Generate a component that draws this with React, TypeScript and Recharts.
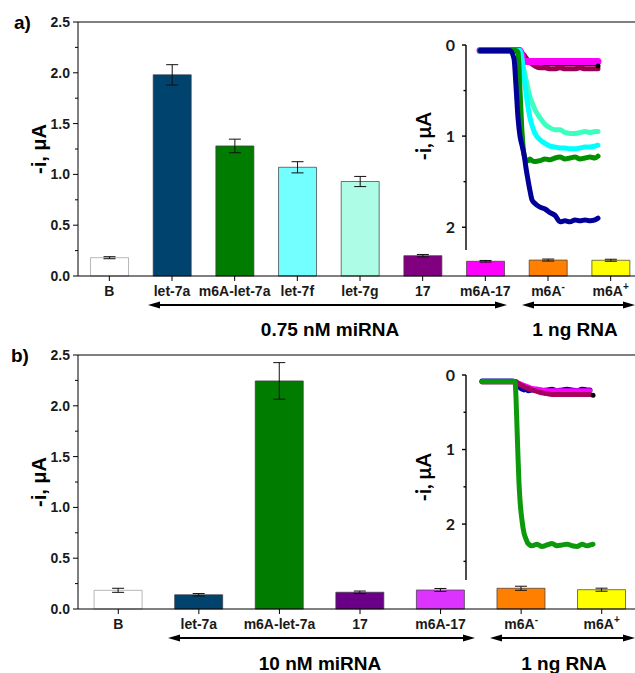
import { BarChart, Bar, Cell, ErrorBar, XAxis, YAxis, ReferenceLine, LineChart, Line } from 'recharts';

const FONT = '"Liberation Sans", Arial, sans-serif';
const INSET_FONT = 'Lato, "Open Sans", sans-serif';

// panel a: 0.75 nM miRNA
const catsA = ['B', 'let-7a', 'm6A-let-7a', 'let-7f', 'let-7g', '17', 'm6A-17', 'm6A-', 'm6A+'];
const valsA = [0.18, 1.98, 1.28, 1.07, 0.93, 0.2, 0.145, 0.157, 0.155];
const errsA = [0.01, 0.1, 0.067, 0.055, 0.05, 0.012, 0.008, 0.01, 0.01];
const colsA = ['#ffffff', '#00436e', '#007d00', '#73ffff', '#adfce5', '#800080', '#ff00ff', '#ff8000', '#ffff00'];

// panel b: 10 nM miRNA
const catsB = ['B', 'let-7a', 'm6A-let-7a', '17', 'm6A-17', 'm6A-', 'm6A+'];
const valsB = [0.184, 0.14, 2.245, 0.165, 0.187, 0.204, 0.19];
const errsB = [0.02, 0.012, 0.18, 0.012, 0.015, 0.02, 0.015];
const colsB = ['#ffffff', '#00436e', '#007d00', '#6a0088', '#dd33ff', '#ff8000', '#ffff00'];

const barTicks = [0, 0.25, 0.5, 0.75, 1, 1.25, 1.5, 1.75, 2, 2.25, 2.5];

// inset a: current traces
const tA = [0, 30, 34, 36, 38, 40, 42, 44, 46, 48, 50, 52, 55, 60, 65, 70, 75, 80, 85, 90, 95, 100, 105, 110, 115, 118];
const blueA = [0.06, 0.06, 0.15, 0.45, 0.8, 1.0, 1.1, 1.2, 1.35, 1.48, 1.6, 1.7, 1.74, 1.78, 1.8, 1.84, 1.87, 1.94, 1.93, 1.94, 1.92, 1.93, 1.92, 1.93, 1.92, 1.9];
const greenA = [0.06, 0.06, 0.06, 0.06, 0.08, 0.5, 0.95, 1.2, 1.26, 1.27, 1.25, 1.27, 1.28, 1.27, 1.25, 1.26, 1.24, 1.23, 1.25, 1.24, 1.23, 1.25, 1.24, 1.23, 1.24, 1.22];
const cyanA = [0.06, 0.06, 0.06, 0.06, 0.06, 0.06, 0.15, 0.35, 0.52, 0.68, 0.8, 0.88, 0.97, 1.04, 1.08, 1.11, 1.12, 1.13, 1.13, 1.14, 1.14, 1.13, 1.12, 1.12, 1.11, 1.1];
const aquaA = [0.06, 0.06, 0.06, 0.06, 0.06, 0.08, 0.18, 0.28, 0.38, 0.48, 0.57, 0.63, 0.71, 0.8, 0.87, 0.91, 0.93, 0.93, 0.96, 0.97, 0.97, 0.96, 0.95, 0.96, 0.95, 0.95];
const magentaA = [0.06, 0.06, 0.06, 0.06, 0.06, 0.06, 0.12, 0.18, 0.18, 0.18, 0.18, 0.18, 0.18, 0.18, 0.18, 0.18, 0.18, 0.18, 0.18, 0.18, 0.18, 0.18, 0.18, 0.18, 0.18, 0.18];
const maroonA = [0.06, 0.06, 0.06, 0.06, 0.06, 0.07, 0.09, 0.11, 0.14, 0.17, 0.19, 0.21, 0.23, 0.25, 0.25, 0.26, 0.26, 0.25, 0.26, 0.26, 0.26, 0.25, 0.26, 0.26, 0.26, 0.26];
const blackA = [0.06, 0.06, 0.06, 0.06, 0.06, 0.07, 0.09, 0.12, 0.15, 0.17, 0.19, 0.2, 0.21, 0.21, 0.22, 0.22, 0.22, 0.22, 0.22, 0.22, 0.22, 0.22, 0.22, 0.22, 0.22, 0.23];

// inset b
const tB = [0, 30, 33, 34, 35, 36, 37, 38, 40, 42, 44, 46, 50, 55, 60, 65, 70, 75, 80, 85, 90, 95, 100, 105, 108, 111];
const greenB = [0.09, 0.09, 0.09, 0.3, 0.7, 1.1, 1.45, 1.68, 1.95, 2.12, 2.2, 2.26, 2.29, 2.27, 2.3, 2.28, 2.26, 2.29, 2.28, 2.27, 2.29, 2.3, 2.27, 2.29, 2.28, 2.27];
const blueB = [0.08, 0.08, 0.09, 0.1, 0.12, 0.14, 0.16, 0.17, 0.19, 0.2, 0.19, 0.21, 0.2, 0.19, 0.21, 0.2, 0.19, 0.21, 0.2, 0.19, 0.2, 0.21, 0.19, 0.2, 0.2, null];
const magentaB = [0.09, 0.09, 0.09, 0.09, 0.1, 0.11, 0.11, 0.12, 0.13, 0.14, 0.15, 0.16, 0.18, 0.19, 0.2, 0.21, 0.21, 0.21, 0.21, 0.21, 0.21, 0.21, 0.21, 0.21, 0.21, null];
const maroonB = [0.09, 0.09, 0.09, 0.09, 0.1, 0.11, 0.12, 0.13, 0.14, 0.16, 0.17, 0.18, 0.2, 0.22, 0.24, 0.25, 0.26, 0.26, 0.26, 0.26, 0.26, 0.26, 0.26, 0.26, 0.26, null];
const blackB = [0.09, 0.09, 0.09, 0.09, 0.1, 0.11, 0.12, 0.13, 0.15, 0.16, 0.18, 0.19, 0.21, 0.23, 0.25, 0.26, 0.27, 0.27, 0.27, 0.27, 0.27, 0.27, 0.27, 0.27, 0.27, 0.27];

function CatTick({ x, y, payload }: any) {
  const m = /^m6A([+-])$/.exec(payload.value);
  return (
    <text x={x} y={y} dy={11} textAnchor="middle" fontFamily={FONT} fontWeight="bold" fontSize={14} fill="#1a1a1a">
      {m ? (
        <>
          <tspan>m6A</tspan>
          <tspan dy={-6} fontSize={10}>{m[1]}</tspan>
        </>
      ) : (
        payload.value
      )}
    </text>
  );
}

// y ticks: draws its own tick line so minor ticks can be shorter
const makeYTick = (size: number, margin: number, opts: any) => (props: any) => {
  const { x, y, payload } = props;
  const v = payload.value;
  const major = opts.isMajor(v);
  const ax = x + size + margin;
  return (
    <g>
      <line x1={ax - (major ? size : opts.minor)} x2={ax} y1={y} y2={y} stroke="#000" strokeWidth={opts.sw} />
      {major && (
        <text x={x} y={y} dy={opts.fs * 0.36} textAnchor="end" fontFamily={opts.font} fontWeight="bold" fontSize={opts.fs} fill="#1a1a1a">
          {opts.fmt(v)}
        </text>
      )}
    </g>
  );
};

const yLabel = (text: string, size: number, font: string, shift = 0) => (props: any) => {
  const vb = props.viewBox;
  const cx = vb.x + vb.width / 2;
  const cy = vb.y + vb.height / 2 + shift;
  return (
    <text x={cx} y={cy} transform={`rotate(-90 ${cx} ${cy})`} textAnchor="middle" dominantBaseline="central"
      fontFamily={font} fontWeight="bold" fontSize={size} fill="#000">
      {text}
    </text>
  );
};

function BarPanel({ cats, vals, errs, cols }: any) {
  const data = cats.map((c: string, i: number) => ({ name: c, value: vals[i], err: errs[i] }));
  const tick = makeYTick(5, 3, {
    isMajor: (v: number) => Math.abs(v * 2 - Math.round(v * 2)) < 1e-6,
    minor: 3,
    sw: 1,
    fs: 14,
    font: FONT,
    fmt: (v: number) => v.toFixed(1),
  });
  return (
    <BarChart width={643} height={300} data={data} margin={{ top: 22, right: 1, bottom: 0, left: 0 }} barCategoryGap="20%">
      <XAxis dataKey="name" height={24} interval={0} tickSize={5} tickMargin={4} tick={<CatTick />}
        axisLine={{ stroke: '#000' }} tickLine={{ stroke: '#000' }} />
      <YAxis width={78} domain={[0, 2.5]} ticks={barTicks} interval={0} tickSize={5} tickMargin={3}
        tickLine={false} tick={tick} axisLine={{ stroke: '#000' }} label={yLabel('-i, μA', 20, FONT)} />
      <ReferenceLine y={2.5} stroke="#000" />
      <Bar dataKey="value" isAnimationActive={false} stroke="#3a3a3a" strokeOpacity={0.7} strokeWidth={1}>
        {cols.map((c: string, i: number) => (
          <Cell key={i} fill={c} stroke={i === 0 ? '#999' : '#3a3a3a'} />
        ))}
        <ErrorBar dataKey="err" width={6} stroke="#111" strokeWidth={1} />
      </Bar>
    </BarChart>
  );
}

function Inset({ t, series, domainX, domainY, ticks, height, labelShift }: any) {
  const data = t.map((tt: number, i: number) => {
    const row: any = { t: tt };
    series.forEach((s: any) => (row[s.key] = s.values[i]));
    return row;
  });
  const tick = makeYTick(4, 7, {
    isMajor: (v: number) => Number.isInteger(v),
    minor: 2.5,
    sw: 1.4,
    fs: 16,
    font: INSET_FONT,
    fmt: (v: number) => String(v),
  });
  return (
    <LineChart width={230} height={height + 15} data={data} margin={{ top: 10, right: 4, bottom: 5, left: 0 }}>
      <XAxis dataKey="t" type="number" domain={domainX} hide />
      <YAxis width={86} reversed domain={domainY} ticks={ticks} interval={0} tickSize={4} tickMargin={7}
        tickLine={false} tick={tick} axisLine={{ stroke: '#000', strokeWidth: 1.4 }}
        label={yLabel('-i, μA', 20, INSET_FONT, labelShift)} />
      {series.map((s: any) => (
        <Line key={s.key} dataKey={s.key} type="monotone" stroke={s.color} strokeWidth={s.w} strokeLinecap="round"
          dot={s.endDot ? (p: any) => (p.index === t.length - 1 ? <circle key={p.index} cx={p.cx} cy={p.cy} r={2.5} fill={s.color} /> : <g key={p.index} />) : false}
          isAnimationActive={false} />
      ))}
    </LineChart>
  );
}

const seriesA = [
  { key: 'maroon', values: maroonA, color: '#9c0050', w: 5 },
  { key: 'black', values: blackA, color: '#000000', w: 2, endDot: true },
  { key: 'magenta', values: magentaA, color: '#ff00ff', w: 7 },
  { key: 'aqua', values: aquaA, color: '#3cffc0', w: 5 },
  { key: 'cyan', values: cyanA, color: '#00ffff', w: 5 },
  { key: 'green', values: greenA, color: '#009000', w: 5 },
  { key: 'blue', values: blueA, color: '#000099', w: 5 },
];

const seriesB = [
  { key: 'black', values: blackB, color: '#000000', w: 2, endDot: true },
  { key: 'blue', values: blueB, color: '#0000aa', w: 5 },
  { key: 'magenta', values: magentaB, color: '#ff00ff', w: 5 },
  { key: 'maroon', values: maroonB, color: '#a8005e', w: 5 },
  { key: 'green', values: greenB, color: '#0c9a0c', w: 5 },
];

function Arrow({ x1, x2, y }: any) {
  const L = 12;
  const H = 3.5;
  return (
    <g>
      <line x1={x1 + L - 1} x2={x2 - L + 1} y1={y} y2={y} stroke="#000" strokeWidth={2} />
      <polygon points={`${x1},${y} ${x1 + L},${y - H} ${x1 + L},${y + H}`} fill="#000" />
      <polygon points={`${x2},${y} ${x2 - L},${y - H} ${x2 - L},${y + H}`} fill="#000" />
    </g>
  );
}

const txt = { fontFamily: FONT, fontWeight: 'bold' as const, fill: '#000' };

export default function App() {
  return (
    <div style={{ position: 'absolute', left: 0, top: 0, width: 635, height: 673, overflow: 'hidden', background: '#fff' }}>
      <div style={{ position: 'absolute', left: 0, top: 0 }}>
        <BarPanel cats={catsA} vals={valsA} errs={errsA} cols={colsA} />
      </div>
      <div style={{ position: 'absolute', left: 0, top: 333 }}>
        <BarPanel cats={catsB} vals={valsB} errs={errsB} cols={colsB} />
      </div>
      <div style={{ position: 'absolute', left: 380, top: 35 }}>
        <Inset t={tA} series={seriesA} domainX={[-14, 126]} domainY={[0, 2.25]} ticks={[0, 0.5, 1, 1.5, 2]} height={205} labelShift={-11} />
      </div>
      <div style={{ position: 'absolute', left: 380, top: 365 }}>
        <Inset t={tB} series={seriesB} domainX={[-16, 124]} domainY={[0, 2.75]} ticks={[0, 0.5, 1, 1.5, 2, 2.5]} height={205} labelShift={0} />
      </div>
      <svg width={635} height={673} style={{ position: 'absolute', left: 0, top: 0, pointerEvents: 'none' }}>
        <text x={14} y={29} fontSize={19} {...txt}>a)</text>
        <text x={11} y={362} fontSize={19} {...txt}>b)</text>
        <Arrow x1={148} x2={507} y={305} />
        <Arrow x1={522} x2={635} y={305} />
        <text x={330} y={336} fontSize={19} textAnchor="middle" {...txt}>0.75 nM miRNA</text>
        <text x={575} y={336} fontSize={19} textAnchor="middle" {...txt}>1 ng RNA</text>
        <Arrow x1={168} x2={475} y={638} />
        <Arrow x1={490} x2={635} y={638} />
        <text x={320} y={670} fontSize={19} textAnchor="middle" {...txt}>10 nM miRNA</text>
        <text x={564} y={670} fontSize={19} textAnchor="middle" {...txt}>1 ng RNA</text>
      </svg>
    </div>
  );
}
